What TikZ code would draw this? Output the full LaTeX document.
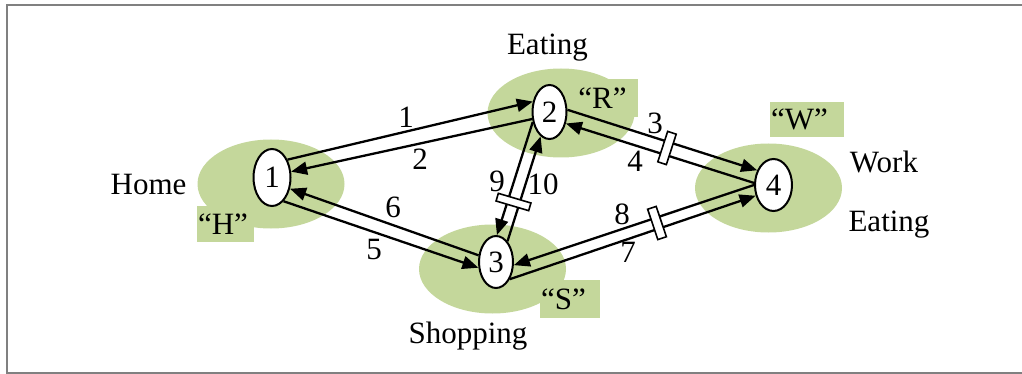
\documentclass[tikz,border=0pt]{standalone}
\usepackage{fontspec}
\setmainfont{Liberation Serif}
\usetikzlibrary{arrows.meta,shapes.geometric}
\definecolor{blob}{RGB}{196,215,155}
\definecolor{framegray}{RGB}{128,128,128}
\begin{document}
\begin{tikzpicture}[x=1pt,y=-1pt,
  font=\fontsize{31}{36}\selectfont,
  blobshape/.style={ellipse, fill=blob, inner sep=0, minimum width=147pt, minimum height=89pt},
  state/.style={ellipse, draw=black, line width=2pt, fill=white, inner sep=0},
  tagbox/.style={rectangle, fill=blob, inner ysep=0, inner xsep=1pt, align=left},
  link/.style={line width=2.3pt, -{Triangle[length=16pt,width=13pt]}},
  barmark/.style={rectangle, draw=black, line width=1.6pt, fill=white, inner sep=0, minimum width=9pt, minimum height=32pt},
  lbl/.style={inner sep=0, anchor=base}
]
\useasboundingbox (0,0) rectangle (1022,374);
\draw[framegray, line width=2pt] (1022,5) -- (6.5,5) -- (6.5,372.8) -- (1022,372.8);

% green blobs
\node[blobshape] (bh) at (271,184) {};
\node[blobshape] (br) at (561,113) {};
\node[blobshape] (bs) at (492.5,269) {};
\node[blobshape] (bw) at (768.5,188) {};

% tag boxes
\node[tagbox, text width=55pt, minimum height=36pt] (th) at (225.5,224) {“H”};
\node[tagbox, text width=69pt, minimum height=38pt, align=center] (tr) at (602.5,98) {“R”};
\node[tagbox, text width=58pt, minimum height=38pt] (ts) at (570,299) {“S”};
\node[tagbox, text width=72pt, minimum height=35pt] (tw) at (807,119.5) {“W”};

% states
\node[state, minimum width=37pt, minimum height=57pt] (n1) at (272,177.5) {1};
\node[state, minimum width=34pt, minimum height=54pt] (n2) at (549.5,112) {2};
\node[state, minimum width=34pt, minimum height=52pt] (n3) at (496,262) {3};
\node[state, minimum width=37pt, minimum height=52pt] (n4) at (773.5,185) {4};

% links
\draw[link] (n1.49) -- (n2.148);
\draw[link] (n2.202) -- (n1.17);
\draw[link] (n2.7) -- (n4.138);
\draw[link] (n4.174) -- (n2.325);
\draw[link] (n4.180) -- (n3.350);
\draw[link] (n3.309) -- (n4.211);
\draw[link] (n3.159) -- (n1.328);
\draw[link] (n1.296) -- (n3.198);
\draw[link] (n2.211) -- (n3.88);
\draw[link] (n3.61) -- (n2.250);

% bar marks
\node[barmark, rotate=-18] (m24) at (667,148) {};
\node[barmark, rotate=18.5] (m34) at (657,223) {};
\node[barmark, rotate=73.5, minimum width=8pt, minimum height=34pt] (m23) at (513.5,202) {};

% link labels
\node[lbl] (l1) at (406,128) {1};
\node[lbl] (l2) at (420,170) {2};
\node[lbl] (l3) at (655,134) {3};
\node[lbl] (l4) at (635,172) {4};
\node[lbl] (l5) at (374,259) {5};
\node[lbl] (l6) at (393,217) {6};
\node[lbl] (l7) at (628,262) {7};
\node[lbl] (l8) at (622,224) {8};
\node[lbl] (l9) at (497,192) {9};
\node[lbl] (l10) at (543,195) {10};

% place labels
\node[lbl] (home) at (148.6,194) {Home};
\node[lbl] (eat1) at (547.5,55) {Eating};
\node[lbl] (shop) at (468,343) {Shopping};
\node[lbl] (work) at (884,173) {Work};
\node[lbl] (eat2) at (889,231) {Eating};
\end{tikzpicture}
\end{document}
